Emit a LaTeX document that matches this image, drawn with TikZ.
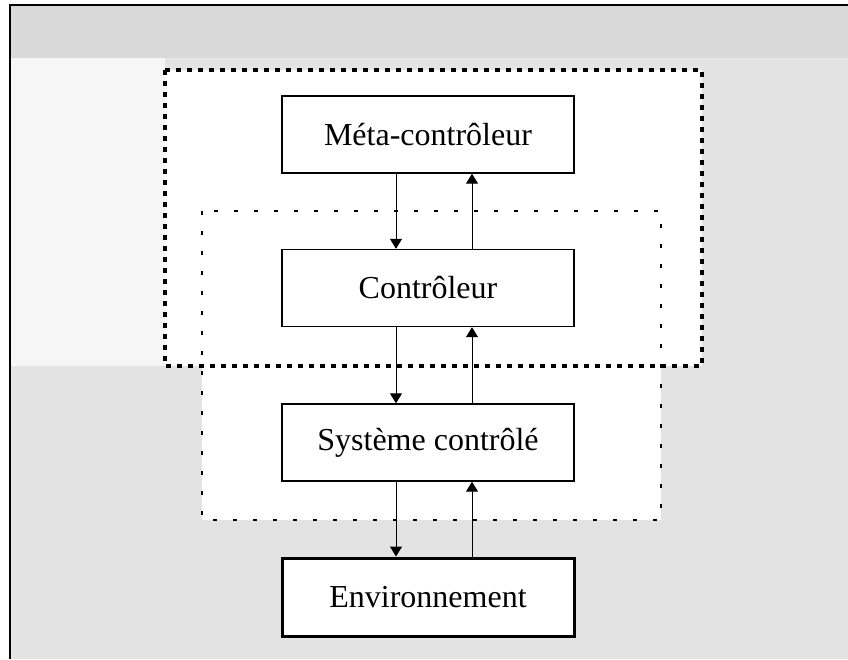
\documentclass[tikz,border=0pt]{standalone}
\usepackage{fontspec}
\setmainfont{Liberation Serif}
\usetikzlibrary{arrows.meta}
\begin{document}
\begin{tikzpicture}[x=1pt,y=-1pt,
  blk/.style={draw=black, line width=1.4pt, fill=white, minimum width=292pt, minimum height=77pt, inner sep=0pt, font=\fontsize{32}{37}\selectfont},
  envblk/.style={blk, line width=3pt, minimum height=78pt},
  arr/.style={line width=1pt, -{Triangle[length=10pt,width=12pt]}},
  metabox/.style={line width=3.3pt, dash pattern=on 5pt off 6pt},
  ctrlbox/.style={line width=1.5pt, dash pattern=on 4pt off 16pt}
]
\useasboundingbox (0,0) rectangle (848,659);
% background
\fill[gray!22] (10,5) rectangle (848,659);
\fill[gray!30] (10,5) rectangle (848,58);
\fill[gray!7] (10,58) rectangle (165,366);
\fill[white] (165,70) rectangle (702,366);
\fill[white] (202,211) rectangle (661,520);
% outer frame (top and left edges)
\draw[line width=2.5pt] (848,5) -- (10,5) -- (10,659);
% group boxes
\draw[ctrlbox] (202,211) rectangle (661,520);
\draw[metabox] (165,70) rectangle (702,366);
% blocks
\node[blk] (meta) at (428,134.5) {Méta-contrôleur};
\node[blk] (ctrl) at (428,288) {Contrôleur};
\node[blk] (sys) at (428,442.5) {Système contrôlé};
\node[envblk] (env) at (428,597) {Environnement};
% arrow columns
\coordinate (dn) at (396,0);
\coordinate (up) at (472,0);
\draw[arr] (meta.south -| dn) -- (ctrl.north -| dn);
\draw[arr] (ctrl.north -| up) -- (meta.south -| up);
\draw[arr] (ctrl.south -| dn) -- (sys.north -| dn);
\draw[arr] (sys.north -| up) -- (ctrl.south -| up);
\draw[arr] (sys.south -| dn) -- (env.north -| dn);
\draw[arr] (env.north -| up) -- (sys.south -| up);
\end{tikzpicture}
\end{document}
